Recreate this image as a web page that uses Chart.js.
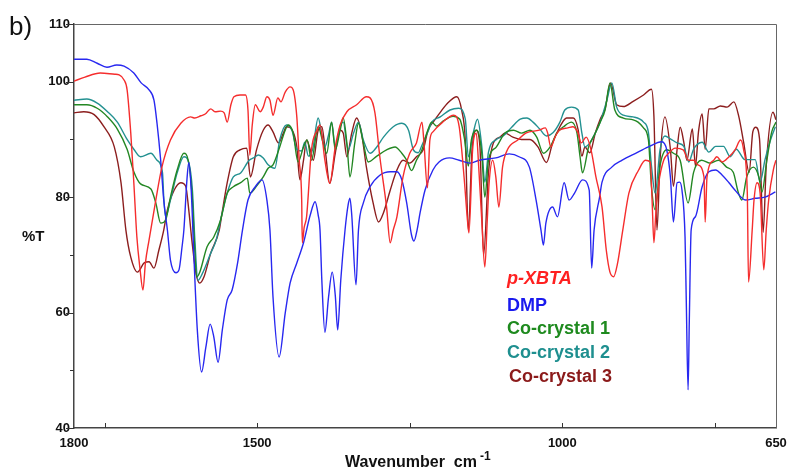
<!DOCTYPE html>
<html>
<head>
<meta charset="utf-8">
<script src="https://cdn.jsdelivr.net/npm/chart.js@4.4.0/dist/chart.umd.min.js"></script>
<style>
  html, body { margin: 0; padding: 0; background: #fff; }
</style>
</head>
<body>
<canvas id="irChart" width="787" height="470"></canvas>
<script>
// [wavenumber cm-1, %T]
const pxbta = [[1800,100.1],[1782,100.8],[1757,101.5],[1733,101.3],[1726,101.2],[1718,100.3],[1713,98.6],[1707,91.1],[1702,82.5],[1697,73.1],
  [1692,67.7],[1687,63.9],[1683,68.6],[1677,72.6],[1666,79.5],[1656,85.2],[1642,89.9],[1625,92.8],[1609,93.9],[1602,93.7],
  [1592,94.1],[1585,94.4],[1576,95.3],[1569,94.8],[1560,94.9],[1554,94.6],[1549,93.0],[1543,96.0],[1538,97.4],[1528,97.7],
  [1519,97.7],[1515,95.1],[1512,87.3],[1508,92.5],[1503,96.0],[1495,94.8],[1490,95.6],[1484,97.4],[1479,96.8],[1474,94.2],
  [1466,97.2],[1461,96.5],[1454,98.2],[1446,99.1],[1441,98.6],[1435,93.9],[1431,86.4],[1427,79.5],[1426,72.1],[1423,74.7],
  [1419,76.6],[1411,88.2],[1402,91.6],[1397,92.5],[1389,86.4],[1381,82.4],[1372,88.7],[1364,92.5],[1353,94.8],[1337,96.0],
  [1321,97.4],[1315,97.2],[1307,94.6],[1299,87.0],[1288,78.3],[1282,72.1],[1277,74.3],[1271,76.6],[1261,83.5],[1250,87.6],
  [1239,89.4],[1230,93.0],[1227,89.9],[1221,81.6],[1217,89.9],[1212,91.3],[1196,93.0],[1178,94.2],[1169,92.2],[1161,83.5],
  [1155,75.5],[1153,73.8],[1147,88.2],[1141,91.1],[1137,85.2],[1132,76.0],[1127,67.9],[1123,76.0],[1120,82.4],[1114,86.4],
  [1109,83.5],[1104,78.3],[1098,85.2],[1090,88.2],[1073,89.9],[1060,91.1],[1038,91.6],[1028,92.0],[1024,91.1],[1019,88.7],
  [1012,90.4],[1005,91.6],[991,92.0],[983,92.2],[975,91.3],[969,89.4],[961,90.4],[953,88.2],[945,83.5],[935,78.3],
  [928,70.8],[922,67.0],[916,66.2],[910,68.3],[901,74.3],[891,80.7],[875,84.7],[864,86.4],[856,86.1],[853,79.5],
  [850,72.1],[847,77.0],[842,82.5],[834,86.4],[826,87.6],[815,88.5],[802,88.2],[793,86.4],[785,86.4],[778,85.6],
  [768,83.5],[766,75.7],[763,83.5],[752,86.4],[747,87.0],[738,86.1],[727,87.0],[717,88.2],[708,89.9],[703,88.2],
  [697,80.7],[695,65.3],[689,74.3],[686,79.5],[681,82.5],[676,80.7],[670,67.4],[666,74.3],[662,79.5],[654,84.9],[650,86.4]];

const dmp = [[1800,103.9],[1779,103.9],[1762,103.2],[1746,102.5],[1730,102.9],[1718,102.7],[1702,101.5],[1690,99.8],[1677,98.6],[1669,96.8],
  [1664,92.8],[1658,86.4],[1653,79.5],[1647,74.3],[1642,69.1],[1633,66.9],[1628,67.4],[1623,71.4],[1620,74.3],[1615,83.0],
  [1612,86.0],[1608,81.2],[1604,70.8],[1598,57.0],[1591,49.7],[1584,54.0],[1577,58.0],[1571,55.8],[1564,51.4],[1557,57.0],
  [1549,62.2],[1541,63.9],[1532,68.6],[1524,74.3],[1515,79.5],[1503,81.8],[1492,83.0],[1484,79.5],[1479,74.3],[1474,62.7],
  [1464,52.3],[1454,59.9],[1446,65.1],[1435,68.6],[1424,72.1],[1413,76.9],[1405,79.2],[1400,76.9],[1397,74.3],[1394,65.6],
  [1389,56.6],[1383,62.7],[1377,67.0],[1372,63.0],[1368,57.0],[1363,65.6],[1356,74.3],[1351,78.6],[1348,79.8],[1345,76.9],
  [1338,64.8],[1334,74.3],[1326,79.0],[1315,81.8],[1299,83.8],[1282,84.4],[1271,84.4],[1263,83.0],[1255,79.0],[1247,73.4],
  [1243,72.4],[1238,74.3],[1233,77.3],[1225,81.2],[1212,84.7],[1202,86.1],[1185,86.8],[1169,86.4],[1152,85.9],[1136,86.4],
  [1109,86.8],[1087,87.5],[1071,87.0],[1054,85.2],[1043,79.5],[1035,74.3],[1031,71.7],[1027,75.5],[1016,78.3],[1008,76.6],
  [997,82.5],[989,79.5],[980,80.7],[967,83.0],[956,81.2],[952,67.7],[948,74.3],[939,80.0],[935,82.6],[919,85.2],
  [902,86.4],[880,87.6],[859,88.7],[837,89.6],[829,88.2],[823,83.5],[818,75.7],[812,82.5],[808,82.6],[804,81.2],
  [799,73.1],[797,62.2],[794,46.6],[792,58.7],[789,74.3],[782,76.6],[771,81.8],[760,84.4],[749,84.7],[738,83.8],
  [727,82.5],[717,81.2],[700,79.5],[684,79.8],[668,80.0],[651,80.9]];

const coCrystal1 = [[1800,96.0],[1779,96.0],[1762,95.4],[1745,93.9],[1729,91.8],[1713,88.3],[1702,84.4],[1691,82.3],[1674,81.4],[1666,79.0],
  [1658,75.5],[1650,76.0],[1642,80.0],[1631,84.7],[1620,87.6],[1613,86.4],[1606,79.5],[1603,72.6],[1599,66.2],[1594,67.0],
  [1582,71.4],[1571,73.1],[1560,76.0],[1549,80.7],[1539,81.8],[1527,82.5],[1516,83.3],[1512,80.7],[1501,81.9],[1490,83.5],
  [1482,85.0],[1474,85.6],[1463,88.7],[1454,91.6],[1449,92.5],[1441,91.1],[1433,86.1],[1424,88.7],[1418,89.9],[1411,86.4],
  [1400,92.2],[1392,89.4],[1386,87.6],[1378,93.0],[1372,88.2],[1364,91.6],[1359,93.7],[1353,89.4],[1348,83.5],[1340,89.4],
  [1334,92.8],[1327,89.9],[1318,86.1],[1304,87.1],[1288,88.2],[1274,88.7],[1263,87.6],[1255,86.4],[1247,84.6],[1239,86.4],
  [1230,88.2],[1222,91.1],[1214,93.0],[1206,92.3],[1195,93.2],[1179,94.0],[1168,93.5],[1160,89.9],[1154,85.4],[1149,89.9],
  [1140,91.6],[1132,87.6],[1127,80.0],[1121,86.4],[1108,88.7],[1094,91.1],[1080,91.6],[1067,91.1],[1053,91.6],[1042,90.4],
  [1031,87.6],[1020,88.7],[1009,91.1],[998,92.2],[985,93.0],[976,91.1],[971,87.0],[967,84.2],[957,88.7],[946,91.1],
  [938,93.0],[930,95.1],[922,99.8],[914,95.1],[900,93.7],[884,93.4],[876,93.0],[867,92.0],[859,89.9],[854,81.8],
  [848,77.8],[840,85.4],[829,88.2],[818,87.6],[807,86.4],[794,79.0],[785,84.3],[772,86.4],[758,85.9],[744,86.4],
  [731,85.2],[720,84.3],[712,80.9],[706,79.5],[698,83.5],[687,85.2],[678,83.5],[673,80.9],[665,86.4],[657,91.3],[650,93.0]];

const coCrystal2 = [[1800,96.8],[1779,97.0],[1762,96.3],[1745,94.8],[1729,93.0],[1713,90.0],[1702,88.3],[1691,87.0],[1674,87.6],[1664,86.4],
  [1655,84.2],[1653,80.0],[1650,76.6],[1642,79.5],[1631,84.2],[1620,87.0],[1612,86.0],[1606,81.2],[1602,72.6],[1597,65.6],
  [1590,66.7],[1576,70.3],[1567,72.6],[1558,76.9],[1549,80.7],[1539,83.5],[1527,84.2],[1513,86.4],[1506,86.8],[1498,87.3],
  [1490,86.8],[1482,85.6],[1471,85.0],[1463,89.9],[1452,92.5],[1443,91.6],[1435,88.3],[1427,88.0],[1422,89.5],[1416,87.1],
  [1409,88.3],[1400,93.7],[1394,90.8],[1389,88.7],[1383,90.8],[1378,93.0],[1372,88.7],[1364,92.2],[1359,93.0],[1351,88.2],
  [1342,91.1],[1334,93.0],[1326,89.9],[1315,87.6],[1304,88.7],[1293,90.4],[1277,92.2],[1263,92.8],[1252,91.6],[1244,88.2],
  [1236,87.7],[1230,89.0],[1220,91.4],[1214,93.0],[1200,93.9],[1184,95.1],[1170,95.4],[1159,93.5],[1154,87.0],[1146,91.1],
  [1139,93.5],[1132,88.8],[1127,82.6],[1121,87.8],[1108,90.0],[1097,90.6],[1083,92.1],[1069,93.5],[1058,93.7],[1048,93.0],
  [1037,91.8],[1026,90.6],[1015,91.2],[1004,93.0],[996,95.1],[985,95.6],[974,95.1],[968,91.1],[963,88.7],[955,89.4],
  [946,91.1],[938,93.0],[927,96.8],[919,99.8],[911,95.6],[900,94.2],[884,93.9],[867,93.0],[859,91.2],[854,85.4],
  [848,80.7],[840,88.2],[832,90.6],[823,90.1],[812,89.4],[801,88.8],[793,86.1],[785,88.3],[771,89.5],[760,87.8],
  [749,88.8],[736,88.8],[725,87.0],[715,88.3],[701,86.5],[684,86.5],[676,82.6],[668,86.5],[659,89.9],[651,92.2]];

const coCrystal3 = [[1800,94.6],[1784,94.8],[1767,94.3],[1751,92.2],[1734,88.7],[1723,82.5],[1715,74.3],[1707,69.6],[1696,67.0],[1685,68.6],
  [1677,68.8],[1669,67.7],[1661,70.8],[1653,74.3],[1647,77.8],[1636,81.2],[1625,82.5],[1617,81.9],[1612,77.8],[1607,72.6],
  [1600,66.7],[1594,65.1],[1587,66.2],[1576,70.3],[1562,74.3],[1558,76.9],[1549,82.5],[1539,87.0],[1528,88.2],[1517,88.5],
  [1511,83.5],[1501,88.2],[1490,91.6],[1482,92.5],[1474,91.3],[1465,89.4],[1457,91.1],[1452,92.2],[1441,91.3],[1435,88.7],
  [1430,83.0],[1424,86.4],[1419,89.9],[1413,88.2],[1408,86.4],[1400,91.6],[1394,92.2],[1389,88.7],[1381,82.4],[1372,87.6],
  [1364,91.6],[1359,91.1],[1353,87.0],[1345,91.1],[1337,93.7],[1329,91.1],[1321,85.2],[1310,79.0],[1301,75.7],[1293,77.3],
  [1282,81.2],[1271,84.7],[1261,86.4],[1250,85.9],[1239,87.0],[1228,88.2],[1220,91.6],[1211,93.1],[1200,94.7],[1187,96.4],
  [1173,97.4],[1165,95.1],[1159,89.9],[1154,74.3],[1148,88.2],[1141,91.6],[1135,88.7],[1129,70.0],[1121,84.3],[1113,89.4],
  [1102,90.4],[1094,91.1],[1081,90.4],[1067,90.0],[1053,90.0],[1040,88.7],[1026,86.0],[1016,89.4],[1004,92.2],[993,93.7],
  [982,93.7],[974,91.6],[968,87.1],[963,88.7],[955,87.7],[946,91.1],[938,93.5],[930,95.3],[921,99.8],[911,96.0],
  [900,95.7],[884,96.6],[867,97.7],[854,98.7],[850,94.0],[845,74.3],[840,86.4],[832,93.9],[823,88.3],[818,81.9],
  [812,88.3],[807,92.1],[801,89.5],[796,86.4],[787,91.8],[782,85.4],[777,91.3],[771,94.4],[766,88.3],[760,95.3],
  [752,95.3],[741,95.8],[730,95.6],[719,96.5],[711,94.0],[703,89.5],[694,84.3],[688,91.3],[683,92.1],[677,90.1],
  [671,73.9],[666,85.4],[655,94.7],[650,93.4]];

const seriesNames = ['p-XBTA', 'DMP', 'Co-crystal 1', 'Co-crystal 2', 'Co-crystal 3'];
const lineColors = ['rgb(245,45,45)', 'rgb(40,40,240)', 'rgb(35,135,35)', 'rgb(35,145,145)', 'rgb(140,30,30)'];
const textColors = ['#ff2020', '#1a1aee', '#1e8a1e', '#1e8f8f', '#8b1a1a'];

const xTicks = [1800, 1750, 1500, 1250, 1000, 750, 650];
const xLabels = [1800, 1500, 1000, 650];
const yTicks = [40, 50, 60, 70, 80, 90, 100, 110];
const yLabels = [40, 60, 80, 100, 110];

const allSeries = [pxbta, dmp, coCrystal1, coCrystal2, coCrystal3];

const datasets = allSeries.map((s, i) => ({
  label: seriesNames[i],
  data: s.map(p => ({ x: p[0], y: p[1] })),
  borderColor: lineColors[i],
  borderWidth: 1.4,
  pointRadius: 0,
  fill: false,
  cubicInterpolationMode: 'monotone'
}));

// frame, tick marks and the free texts
const decorPlugin = {
  id: 'decor',
  afterDraw(chart) {
    const { ctx, chartArea: a, scales } = chart;
    const x = scales.x, y = scales.y;
    ctx.save();

    ctx.strokeStyle = '#666';
    ctx.lineWidth = 1;
    ctx.beginPath();
    ctx.moveTo(a.left, a.top + 0.5);
    ctx.lineTo(a.right + 0.5, a.top + 0.5);
    ctx.lineTo(a.right + 0.5, a.bottom);
    ctx.stroke();

    ctx.strokeStyle = '#333';
    ctx.beginPath();
    xTicks.forEach(v => {
      if (v === 1800 || v === 650) return;
      const px = Math.round(x.getPixelForValue(v)) + 0.5;
      ctx.moveTo(px, a.bottom);
      ctx.lineTo(px, a.bottom - 5);
    });
    yTicks.forEach(v => {
      const py = Math.round(y.getPixelForValue(v)) + 0.5;
      const len = yLabels.includes(v) ? 8 : 4;
      ctx.moveTo(a.left - len, py);
      ctx.lineTo(a.left, py);
    });
    ctx.stroke();

    ctx.fillStyle = '#111';
    ctx.textBaseline = 'alphabetic';
    ctx.textAlign = 'left';
    ctx.font = '26px "Liberation Sans", Arial, sans-serif';
    ctx.fillText('b)', 9, 35);

    ctx.font = 'bold 15px "Liberation Sans", Arial, sans-serif';
    ctx.fillText('%T', 22, 241);

    ctx.font = 'bold 16px "Liberation Sans", Arial, sans-serif';
    const t = 'Wavenumber  cm';
    ctx.fillText(t, 345, 467);
    const w = ctx.measureText(t).width;
    ctx.font = 'bold 12px "Liberation Sans", Arial, sans-serif';
    ctx.fillText('-1', 345 + w + 3, 460);

    const baselines = [284, 311, 334, 358, 381.5];
    const lefts = [507, 507, 507, 507, 509];
    seriesNames.forEach((name, i) => {
      ctx.font = (i === 0 ? 'italic ' : '') + 'bold 18px "Liberation Sans", Arial, sans-serif';
      ctx.fillStyle = textColors[i];
      ctx.fillText(name, lefts[i], baselines[i]);
    });
    ctx.restore();
  }
};

new Chart(document.getElementById('irChart'), {
  type: 'line',
  data: { datasets: datasets },
  options: {
    responsive: false,
    animation: false,
    layout: { padding: { top: 24, right: 11, left: 0, bottom: 0 } },
    plugins: { legend: { display: false }, tooltip: { enabled: false } },
    scales: {
      x: {
        type: 'linear',
        reverse: true,
        min: 650,
        max: 1800,
        afterBuildTicks: s => { s.ticks = xTicks.map(v => ({ value: v })); },
        afterFit: s => { s.height = 42; s.paddingLeft = 0; s.paddingRight = 0; },
        grid: { display: false, drawTicks: false },
        border: { display: true, color: '#444', width: 1.5 },
        ticks: {
          autoSkip: false,
          maxRotation: 0,
          padding: 8,
          color: '#111',
          font: { family: '"Liberation Sans", Arial, sans-serif', size: 13, weight: 'bold' },
          callback: v => xLabels.includes(v) ? String(v) : ''
        }
      },
      y: {
        min: 40,
        max: 110,
        afterBuildTicks: s => { s.ticks = yTicks.map(v => ({ value: v })); },
        afterFit: s => { s.width = 74; },
        grid: { display: false, drawTicks: false },
        border: { display: true, color: '#444', width: 1.5 },
        ticks: {
          padding: 4,
          color: '#111',
          font: { family: '"Liberation Sans", Arial, sans-serif', size: 13, weight: 'bold' },
          callback: v => yLabels.includes(v) ? String(v) : ''
        }
      }
    }
  },
  plugins: [decorPlugin]
});
</script>
</body>
</html>
